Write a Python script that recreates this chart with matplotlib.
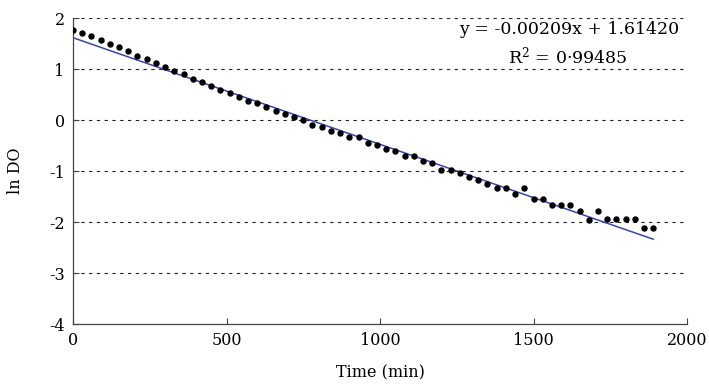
import numpy as np
import matplotlib
matplotlib.use("Agg")
import matplotlib.pyplot as plt

plt.rcParams['font.family'] = ['DejaVu Serif']
plt.rcParams['mathtext.fontset'] = 'dejavuserif'

time_min = [30 * i for i in range(64)]
ln_do = [1.77, 1.71, 1.64, 1.57, 1.50, 1.43, 1.35, 1.26, 1.20, 1.12,
         1.04, 0.96, 0.90, 0.80, 0.75, 0.66, 0.59, 0.54, 0.46, 0.38,
         0.34, 0.26, 0.18, 0.11, 0.06, 0.00, -0.10, -0.13, -0.22, -0.25,
         -0.33, -0.34, -0.44, -0.48, -0.56, -0.61, -0.70, -0.70, -0.80, -0.84,
         -0.97, -0.97, -1.03, -1.11, -1.17, -1.26, -1.34, -1.34, -1.44, -1.34,
         -1.54, -1.54, -1.66, -1.66, -1.66, -1.79, -1.95, -1.79, -1.94, -1.94,
         -1.94, -1.94, -2.12, -2.12]
slope = -0.00209
intercept = 1.61420
r2_text = "0·99485"

fig = plt.figure(figsize=(7.09, 3.84), dpi=100)
ax = fig.add_axes([0.103, 0.156, 0.866, 0.797])

xfit = np.array([time_min[0], time_min[-1]])
ax.plot(xfit, slope * xfit + intercept, color='#3B46A6', lw=1.1, zorder=2)
ax.plot(time_min, ln_do, 'o', color='black', ms=3.6, zorder=3)

ax.set_xlim(0, 2000)
ax.set_ylim(-4, 2)
ax.set_xticks([0, 500, 1000, 1500, 2000])
ax.set_yticks([-4, -3, -2, -1, 0, 1, 2])
ax.set_yticklabels(['-4', '-3', '-2', '-1', '0', '1', '2'])
for yv in [-3, -2, -1, 0, 1, 2]:
    ax.axhline(yv, color='#222222', lw=0.8, ls=(0, (3, 4)), zorder=1)

for s in ['top', 'right']:
    ax.spines[s].set_visible(False)
for s in ['left', 'bottom']:
    ax.spines[s].set_color('#444444')
    ax.spines[s].set_linewidth(0.9)
ax.tick_params(direction='in', length=4, width=0.8, color='#444444',
               labelsize=11.5, pad=6)

ax.set_xlabel('Time (min)', fontsize=11.5, labelpad=11)
ax.set_ylabel('ln DO', fontsize=11.5, labelpad=18)

ax.text(0.988, 0.961, f'y = {slope:.5f}x + {intercept:.5f}', transform=ax.transAxes,
        ha='right', va='center', fontsize=12.5)
ax.text(0.805, 0.873, r'R$^2$ = ' + r2_text, transform=ax.transAxes,
        ha='center', va='center', fontsize=12.5)

fig.savefig('out.png', dpi=100)
